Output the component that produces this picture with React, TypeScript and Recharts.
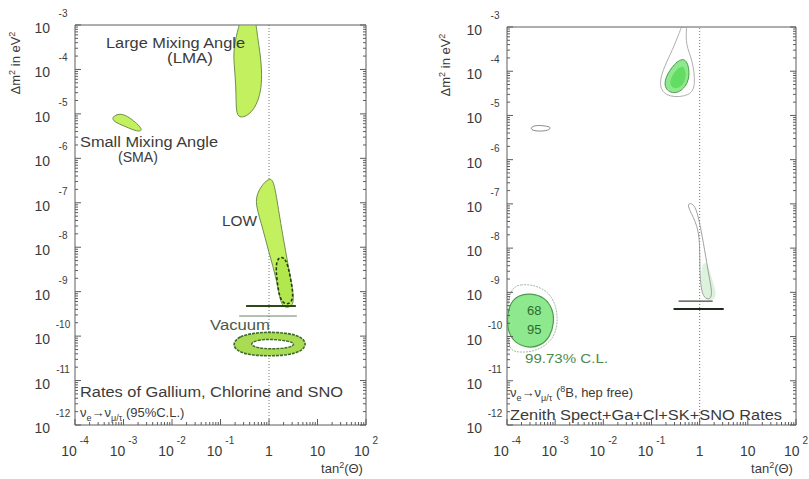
import { ReferenceLine, Scatter, ScatterChart, XAxis, YAxis } from "recharts";

// axis ticks
const xMajor = [1e-4, 1e-3, 1e-2, 1e-1, 1, 10, 100];
const xBase = ["10", "10", "10", "10", "1", "10", "10"];
const xExp = ["-4", "-3", "-2", "-1", "", "", "2"];
const yMajor = [1e-12, 1e-11, 1e-10, 1e-9, 1e-8, 1e-7, 1e-6, 1e-5, 1e-4, 1e-3];
const yExp = ["-12", "-11", "-10", "-9", "-8", "-7", "-6", "-5", "-4", "-3"];

function minorTicks(lo: number, hi: number) {
  const out: number[] = [];
  for (let e = lo; e < hi; e++) for (let m = 2; m <= 9; m++) out.push(m * 10 ** e);
  return out;
}
const xTicks = [...xMajor, ...minorTicks(-4, 2)];
const yTicks = [...yMajor, ...minorTicks(-12, -3)];

// left panel: Ga + Cl + SNO rates, 95% C.L.
const lmaLeft = [
  { x: 0.243, y: 1e-3 }, { x: 0.243, y: 1e-3 }, { x: 0.243, y: 1e-3 },
  { x: 0.541, y: 1e-3 }, { x: 0.541, y: 1e-3 }, { x: 0.541, y: 1e-3 },
  { x: 0.594, y: 4.6e-4 }, { x: 0.686, y: 1.63e-4 }, { x: 0.718, y: 5.8e-5 },
  { x: 0.653, y: 2.66e-5 }, { x: 0.516, y: 1.36e-5 }, { x: 0.354, y: 8.9e-6 },
  { x: 0.243, y: 8.1e-6 }, { x: 0.21, y: 1.1e-5 }, { x: 0.21, y: 2.66e-5 },
  { x: 0.201, y: 7.5e-5 }, { x: 0.183, y: 2.1e-4 }, { x: 0.201, y: 4.6e-4 },
];
const smaLeft = [
  { x: 5.7e-4, y: 8.5e-6 }, { x: 8.4e-4, y: 1.05e-5 }, { x: 1.34e-3, y: 8.5e-6 },
  { x: 2.7e-3, y: 4.3e-6 }, { x: 1.96e-3, y: 3.9e-6 }, { x: 1.06e-3, y: 5.3e-6 },
  { x: 6.3e-4, y: 6.6e-6 },
];
const lowLeft = [
  { x: 1.0, y: 3.6e-7 }, { x: 1.27, y: 3.25e-7 }, { x: 1.6, y: 5.9e-8 },
  { x: 2.23, y: 7.4e-9 }, { x: 2.83, y: 1.83e-9 }, { x: 3.41, y: 5.5e-10 },
  { x: 2.57, y: 4.3e-10 }, { x: 1.76, y: 4.5e-10 }, { x: 1.46, y: 1.83e-9 },
  { x: 1.0, y: 7.4e-9 }, { x: 0.686, y: 3.7e-8 }, { x: 0.492, y: 1.15e-7 },
  { x: 0.686, y: 2.4e-7 },
];
const lowLeftCore = [
  { x: 1.33, y: 5.7e-9 }, { x: 2.23, y: 6.7e-9 }, { x: 2.83, y: 1.83e-9 },
  { x: 3.41, y: 5.5e-10 }, { x: 1.76, y: 4.75e-10 }, { x: 1.46, y: 1.65e-9 },
];
const vacOuter = [
  { x: 0.174, y: 6.6e-11 }, { x: 0.243, y: 1.0e-10 }, { x: 0.492, y: 1.17e-10 },
  { x: 1.0, y: 1.24e-10 }, { x: 2.57, y: 1.17e-10 }, { x: 4.75, y: 9.5e-11 },
  { x: 6.0, y: 6.6e-11 }, { x: 4.75, y: 4.6e-11 }, { x: 2.57, y: 3.75e-11 },
  { x: 1.0, y: 3.56e-11 }, { x: 0.389, y: 3.75e-11 }, { x: 0.221, y: 4.6e-11 },
];
const vacInner = [
  { x: 0.389, y: 6.6e-11 }, { x: 0.567, y: 8.2e-11 }, { x: 1.1, y: 8.6e-11 },
  { x: 2.57, y: 7.8e-11 }, { x: 3.58, y: 6.6e-11 }, { x: 2.57, y: 5.4e-11 },
  { x: 1.1, y: 5.1e-11 }, { x: 0.567, y: 5.4e-11 },
];
const leftLineA = [{ x: 0.337, y: 4.75e-10 }, { x: 3.58, y: 4.75e-10 }];
const leftLineB = [{ x: 0.243, y: 2.83e-10 }, { x: 3.75, y: 2.83e-10 }];

// right panel: zenith spectrum + Ga + Cl + SK + SNO rates
const lmaOuterRight = [
  { x: 0.42, y: 1e-3 }, { x: 0.42, y: 1e-3 }, { x: 0.536, y: 1e-3 }, { x: 0.536, y: 1e-3 },
  { x: 0.51, y: 3.9e-4 }, { x: 0.715, y: 1.8e-4 }, { x: 0.826, y: 4.9e-5 },
  { x: 0.65, y: 2.75e-5 }, { x: 0.226, y: 2.5e-5 }, { x: 0.14, y: 4.2e-5 },
  { x: 0.169, y: 1.06e-4 }, { x: 0.274, y: 3.0e-4 },
];
const lmaRight = [
  { x: 0.487, y: 2.1e-4 }, { x: 0.62, y: 1.18e-4 }, { x: 0.59, y: 5.1e-5 },
  { x: 0.332, y: 2.9e-5 }, { x: 0.187, y: 3.76e-5 }, { x: 0.187, y: 7.0e-5 },
  { x: 0.301, y: 1.53e-4 },
];
const lmaCoreRight = [
  { x: 0.443, y: 1.46e-4 }, { x: 0.536, y: 9.6e-5 }, { x: 0.487, y: 4.9e-5 },
  { x: 0.301, y: 3.76e-5 }, { x: 0.226, y: 5.1e-5 }, { x: 0.287, y: 9.6e-5 },
];
const smallRight = [
  { x: 3.0e-4, y: 5.2e-6 }, { x: 3.8e-4, y: 6.1e-6 }, { x: 7.1e-4, y: 5.75e-6 },
  { x: 8.3e-4, y: 5.2e-6 }, { x: 6.8e-4, y: 4.4e-6 }, { x: 3.5e-4, y: 4.4e-6 },
];
const lowOuterRight = [
  { x: 0.536, y: 1.04e-7 }, { x: 0.787, y: 1.04e-7 }, { x: 1.0, y: 3.9e-8 },
  { x: 1.27, y: 9.0e-9 }, { x: 1.61, y: 1.9e-9 }, { x: 1.95, y: 6.7e-10 },
  { x: 1.05, y: 6.7e-10 }, { x: 1.0, y: 5.4e-9 }, { x: 1.0, y: 2.55e-8 },
  { x: 0.65, y: 6.5e-8 },
];
const lowFillRight = [
  { x: 1.05, y: 4.8e-9 }, { x: 1.47, y: 4.8e-9 }, { x: 1.87, y: 1.7e-9 },
  { x: 2.49, y: 6.7e-10 }, { x: 1.05, y: 6.0e-10 },
];
const rightLineA = [{ x: 0.365, y: 6.3e-10 }, { x: 1.86, y: 6.3e-10 }];
const rightLineB = [{ x: 0.287, y: 4.2e-10 }, { x: 3.16, y: 4.2e-10 }];
const justSoOuter = [
  { x: 1e-4, y: 1.12e-9 }, { x: 1.87e-4, y: 1.6e-9 }, { x: 4.9e-4, y: 1.38e-9 },
  { x: 9.1e-4, y: 7.8e-10 }, { x: 1.15e-3, y: 3.05e-10 }, { x: 1.05e-3, y: 1.19e-10 },
  { x: 6.8e-4, y: 6.4e-11 }, { x: 3.3e-4, y: 4.4e-11 }, { x: 1.47e-4, y: 4.4e-11 },
  { x: 1e-4, y: 5.5e-11 },
];
const justSoRight = [
  { x: 3.01e-4, y: 9.6e-10 }, { x: 6.2e-4, y: 7.8e-10 }, { x: 9.1e-4, y: 3.95e-10 },
  { x: 9.5e-4, y: 2.1e-10 }, { x: 7.9e-4, y: 9.7e-11 }, { x: 4.9e-4, y: 6.1e-11 },
  { x: 2.7e-4, y: 5.5e-11 }, { x: 1.47e-4, y: 7.1e-11 }, { x: 1.05e-4, y: 1.26e-10 },
  { x: 1e-4, y: 2.6e-10 }, { x: 1.15e-4, y: 5.7e-10 }, { x: 1.7e-4, y: 8.6e-10 },
];

const frame = "#5c5c5c";
const ink = "#3b3b3b";
const font = "'Liberation Sans', Arial, sans-serif";

function BottomTick(props: any) {
  const { x, y, payload } = props;
  const i = xMajor.indexOf(payload.value);
  return (
    <g>
      <line x1={x} y1={y} x2={x} y2={y - (i >= 0 ? 6 : 3)} stroke={frame} />
      {i >= 0 && (
        <text x={x} y={y + 31} textAnchor="middle" fontSize={14} fill={ink} fontFamily={font}>
          {xBase[i]}
          {xExp[i] && (
            <tspan dx={3} dy={-12} fontSize={10}>
              {xExp[i]}
            </tspan>
          )}
        </text>
      )}
    </g>
  );
}

function TopTick(props: any) {
  const { x, y, payload } = props;
  const major = xMajor.includes(payload.value);
  return <line x1={x} y1={y} x2={x} y2={y + (major ? 6 : 3)} stroke={frame} />;
}

function LeftTick(props: any) {
  const { x, y, payload } = props;
  const i = yMajor.indexOf(payload.value);
  return (
    <g>
      <line x1={x} y1={y} x2={x + (i >= 0 ? 6 : 3)} y2={y} stroke={frame} />
      {i >= 0 && (
        <g fill={ink} fontFamily={font}>
          <text x={x - 25} y={y + 8} textAnchor="end" fontSize={14}>
            10
          </text>
          <text x={x - 12} y={y - 8} textAnchor="middle" fontSize={10}>
            {yExp[i]}
          </text>
        </g>
      )}
    </g>
  );
}

function RightTick(props: any) {
  const { x, y, payload } = props;
  const major = yMajor.includes(payload.value);
  return <line x1={x} y1={y} x2={x - (major ? 6 : 3)} y2={y} stroke={frame} />;
}

function blob(
  key: string,
  data: { x: number; y: number }[],
  style: { fill?: string; stroke?: string; strokeWidth?: number; strokeDasharray?: string },
  joint: any = "basisClosed",
) {
  return (
    <Scatter
      key={key}
      data={data}
      xAxisId="b"
      yAxisId="l"
      line={{ fill: "none", ...style }}
      lineType="joint"
      lineJointType={joint}
      shape={() => <g />}
      isAnimationActive={false}
    />
  );
}

function Panel({
  width,
  margin,
  children,
}: {
  width: number;
  margin: { top: number; right: number; bottom: number; left: number };
  children: any;
}) {
  return (
    <ScatterChart width={width} height={479} margin={margin}>
      <XAxis
        xAxisId="b"
        dataKey="x"
        type="number"
        scale="log"
        domain={[1e-4, 100]}
        allowDataOverflow
        ticks={xTicks}
        interval={0}
        height={1}
        tickSize={0}
        tickMargin={0}
        tickLine={false}
        axisLine={{ stroke: frame }}
        tick={<BottomTick />}
      />
      <XAxis
        xAxisId="t"
        orientation="top"
        type="number"
        scale="log"
        domain={[1e-4, 100]}
        allowDataOverflow
        ticks={xTicks}
        interval={0}
        height={1}
        tickSize={0}
        tickMargin={0}
        tickLine={false}
        axisLine={{ stroke: frame }}
        tick={<TopTick />}
      />
      <YAxis
        yAxisId="l"
        dataKey="y"
        type="number"
        scale="log"
        domain={[1e-12, 1e-3]}
        allowDataOverflow
        ticks={yTicks}
        interval={0}
        width={1}
        tickSize={0}
        tickMargin={0}
        tickLine={false}
        axisLine={{ stroke: frame }}
        tick={<LeftTick />}
      />
      <YAxis
        yAxisId="r"
        orientation="right"
        type="number"
        scale="log"
        domain={[1e-12, 1e-3]}
        allowDataOverflow
        ticks={yTicks}
        interval={0}
        width={1}
        tickSize={0}
        tickMargin={0}
        tickLine={false}
        axisLine={{ stroke: frame }}
        tick={<RightTick />}
      />
      <ReferenceLine xAxisId="b" yAxisId="l" x={1} stroke="#777" strokeDasharray="1 2" />
      {children}
    </ScatterChart>
  );
}

function Nu({ x, y, len }: { x: number; y: number; len?: number }) {
  return (
    <text x={x} y={y} fontSize={13} fill={ink} fontFamily={font}>
      ν<tspan dy={4} fontSize={9}>e</tspan>
      <tspan dy={-4}>→ν</tspan>
      <tspan dy={4} fontSize={9}>μ/τ</tspan>
      <tspan dy={-4}>{len ? "  (" : "  (95%C.L.)"}</tspan>
      {len ? (
        <>
          <tspan dy={-5} fontSize={9}>8</tspan>
          <tspan dy={5}>B, hep free)</tspan>
        </>
      ) : null}
    </text>
  );
}

export default function App() {
  const lime = "#c2f05e";
  const limeEdge = "#6f8f4c";
  const green = "#8ee88e";
  const greenEdge = "#4c9a4c";
  return (
    <div style={{ position: "absolute", left: 0, top: 0, width: 809, height: 479, background: "#fff" }}>
      <div style={{ position: "absolute", left: 0, top: 0 }}>
        <Panel width={405} margin={{ top: 24, right: 38, bottom: 53, left: 74 }}>
          {blob("lma", lmaLeft, { fill: lime, stroke: limeEdge, strokeWidth: 1 })}
          {blob("sma", smaLeft, { fill: lime, stroke: limeEdge, strokeWidth: 1 })}
          {blob("low", lowLeft, { fill: lime, stroke: limeEdge, strokeWidth: 1 })}
          {blob("lowcore", lowLeftCore, { fill: "#b2e84e", stroke: "#1f3d12", strokeWidth: 1.6, strokeDasharray: "3 2" })}
          {blob("vo", vacOuter, { fill: "#a9dc52", stroke: "#3d6b2a", strokeWidth: 1.6, strokeDasharray: "3 1" })}
          {blob("vi", vacInner, { fill: "#ffffff", stroke: "#3d6b2a", strokeWidth: 1.4, strokeDasharray: "3 1" })}
          {blob("la", leftLineA, { stroke: "#2a4a1a", strokeWidth: 2 }, "linear")}
          {blob("lb", leftLineB, { stroke: "#6a806a", strokeWidth: 1 }, "linear")}
        </Panel>
      </div>
      <div style={{ position: "absolute", left: 410, top: 0 }}>
        <Panel width={399} margin={{ top: 26, right: 12, bottom: 53, left: 96 }}>
          {blob("lmao", lmaOuterRight, { stroke: "#9a9a9a", strokeWidth: 0.8 })}
          {blob("lmar", lmaRight, { fill: green, stroke: greenEdge, strokeWidth: 1 })}
          {blob("lmac", lmaCoreRight, { fill: "#62dc62" })}
          {blob("small", smallRight, { stroke: "#8a8a8a", strokeWidth: 1 })}
          {blob("lowf", lowFillRight, { fill: "#dcf2dc" })}
          {blob("lowo", lowOuterRight, { stroke: "#8a8a8a", strokeWidth: 0.8 })}
          {blob("ra", rightLineA, { stroke: "#3a4a3a", strokeWidth: 1.2 }, "linear")}
          {blob("rb", rightLineB, { stroke: "#1e2a1e", strokeWidth: 2 }, "linear")}
          {blob("jso", justSoOuter, { stroke: "#8aa88a", strokeWidth: 0.8, strokeDasharray: "2 1" })}
          {blob("jsr", justSoRight, { fill: green, stroke: greenEdge, strokeWidth: 1.2 })}
        </Panel>
      </div>
      <svg
        width={809}
        height={479}
        style={{ position: "absolute", left: 0, top: 0, pointerEvents: "none" }}
        fontFamily={font}
      >
        <g fill={ink} fontSize={14}>
          <text x={106} y={48} textLength={139} lengthAdjust="spacingAndGlyphs">Large Mixing Angle</text>
          <text x={167} y={63} textLength={46} lengthAdjust="spacingAndGlyphs">(LMA)</text>
          <text x={80} y={147} textLength={138} lengthAdjust="spacingAndGlyphs">Small Mixing Angle</text>
          <text x={118} y={162} textLength={40} lengthAdjust="spacingAndGlyphs">(SMA)</text>
          <text x={222} y={226} textLength={35} lengthAdjust="spacingAndGlyphs">LOW</text>
          <text x={210} y={330} textLength={60} lengthAdjust="spacingAndGlyphs" fill="#4a5a4a">Vacuum</text>
          <text x={80} y={397} textLength={263} lengthAdjust="spacingAndGlyphs">Rates of Gallium, Chlorine and SNO</text>
          <text x={510} y={420} textLength={272} lengthAdjust="spacingAndGlyphs">Zenith Spect+Ga+Cl+SK+SNO Rates</text>
          <text x={342} y={473} textAnchor="middle" fontSize={13}>
            tan<tspan dy={-5} fontSize={9}>2</tspan>
            <tspan dy={5}>(Θ)</tspan>
          </text>
          <text x={772} y={473} textAnchor="middle" fontSize={13}>
            tan<tspan dy={-5} fontSize={9}>2</tspan>
            <tspan dy={5}>(Θ)</tspan>
          </text>
          <text transform="translate(20 63) rotate(-90)" textAnchor="middle" fontSize={13}>
            Δm<tspan dy={-5} fontSize={9}>2</tspan>
            <tspan dy={5}> in eV</tspan>
            <tspan dy={-5} fontSize={9}>2</tspan>
          </text>
          <text transform="translate(450 65) rotate(-90)" textAnchor="middle" fontSize={13}>
            Δm<tspan dy={-5} fontSize={9}>2</tspan>
            <tspan dy={5}> in eV</tspan>
            <tspan dy={-5} fontSize={9}>2</tspan>
          </text>
        </g>
        <Nu x={80} y={417} />
        <Nu x={510} y={397} len={1} />
        <g fill="#2d6b2d" fontSize={13}>
          <text x={527} y={315}>68</text>
          <text x={527} y={334}>95</text>
        </g>
        <text x={525} y={363} fontSize={13} fill="#4c8a4c" textLength={83} lengthAdjust="spacingAndGlyphs">
          99.73% C.L.
        </text>
      </svg>
    </div>
  );
}
